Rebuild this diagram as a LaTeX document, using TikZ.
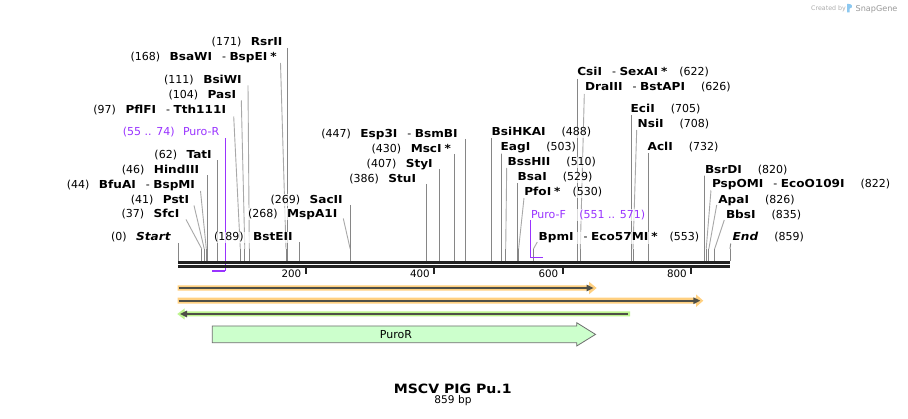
\documentclass[tikz,border=0pt]{standalone}
\usepackage{fontspec}
\setmainfont{DejaVu Sans}[BoldFeatures={FakeStretch=1.1},BoldItalicFeatures={FakeStretch=1.1}]
\usetikzlibrary{calc}
\pgfdeclarelayer{bg}
\pgfsetlayers{bg,main}
\definecolor{mapc}{HTML}{222222}
\definecolor{leadc}{HTML}{A8A8A8}
\definecolor{vertc}{HTML}{868686}
\definecolor{primc}{HTML}{9933FF}
\definecolor{orhalo}{HTML}{FFD080}
\definecolor{grhalo}{HTML}{BDF58E}
\definecolor{featc}{HTML}{4F4F47}
\definecolor{cdsfill}{HTML}{CCFFCC}
\definecolor{cdsdraw}{HTML}{6E6E6E}
\definecolor{logoc}{HTML}{8CC8F0}
\tikzset{
  lbl/.style={inner sep=0.8pt, outer sep=0pt, fill=white, fill opacity=0.7, text opacity=1,
    font=\fontsize{11}{12}\selectfont},
  slant/.style={draw=leadc, line width=0.9pt},
  vert/.style={draw=vertc, line width=0.9pt},
  primline/.style={draw=primc, line width=1.2pt},
  primbar/.style={draw=primc, line width=1.8pt},
  ticklbl/.style={inner sep=0pt, font=\fontsize{10.3}{12}\selectfont},
  featline/.style={draw=featc, line width=2pt},
  cdsbox/.style={fill=cdsfill, draw=cdsdraw, line width=0.8pt},
}
\newcommand\enz[1]{\textbf{#1}}
\newcommand\gapL{\hspace{9.5pt}}
\newcommand\gapR{\hspace{16pt}}
\newcommand\gapS{\hspace{12pt}}
\newcommand\dsep{\hspace{10pt}-\hspace{3.5pt}}
\newcommand\starx{\hspace{3pt}\textbf{*}}
% #1 name, #2 anchor, #3 label pos, #4 text, #5 leader top, #6 site x, #7 leader style
\newcommand\site[7]{%
  \node[lbl,anchor=#2] (#1) at #3 {#4};
  \coordinate (#1-t) at #5;
  \coordinate (#1-b) at (#6,249);
  \coordinate (#1-s) at (#6,261);
  \begin{pgfonlayer}{bg}
  \draw[#7] (#1-t) -- (#1-b);
  \draw[vert] (#1-b) -- (#1-s);
  \end{pgfonlayer}
}
\begin{document}
\begin{tikzpicture}[x=1pt,y=-1pt]
\begin{pgfonlayer}{bg}
\fill[white] (0,0) rectangle (908,419);
\end{pgfonlayer}
\useasboundingbox (0,0) rectangle (908,419);

% ---- left-side labels
\site{start}{base east}{(171.8,240.7)}{(0)\gapL\textbf{\itshape Start}}{(178,243)}{178}{vert}
\site{sfcI}{base east}{(180.1,217.3)}{(37)\gapL\enz{SfcI}}{(186,219.5)}{201.8}{slant}
\site{pstI}{base east}{(189.8,203.3)}{(41)\gapL\enz{PstI}}{(194,205.5)}{204.3}{slant}
\site{bfuAI}{base east}{(195.8,188.3)}{(44)\gapL\enz{BfuAI}\dsep\enz{BspMI}}{(200.5,191)}{206.3}{slant}
\site{hindIII}{base east}{(199.8,173.3)}{(46)\gapL\enz{HindIII}}{(207.6,175.5)}{207.6}{vert}
\site{tatI}{base east}{(212.5,158.3)}{(62)\gapL\enz{TatI}}{(217.8,160.5)}{217.8}{vert}
\site{pflFI}{base east}{(226.8,114)}{(97)\gapL\enz{PflFI}\dsep\enz{Tth111I}}{(233.7,116.5)}{240.3}{slant}
\site{pasI}{base east}{(236.8,98.3)}{(104)\gapL\enz{PasI}}{(241.3,100.5)}{244.8}{slant}
\site{bsiWI}{base east}{(242.5,83.3)}{(111)\gapL\enz{BsiWI}}{(248,85.5)}{249.3}{slant}
\site{bsaWI}{base east}{(277.5,60.7)}{(168)\gapL\enz{BsaWI}\dsep\enz{BspEI}\starx}{(280.5,63)}{286}{slant}
\site{rsrII}{base east}{(283.1,45.7)}{(171)\gapL\enz{RsrII}}{(287.9,48)}{287.9}{vert}
\site{bstEII}{base east}{(293.5,240.7)}{(189)\gapL\enz{BstEII}}{(299.5,242)}{299.5}{vert}
\site{mspA1I}{base east}{(338.1,217.3)}{(268)\gapL\enz{MspA1I}}{(343.3,218.5)}{350.2}{slant}
\site{sacII}{base east}{(343.5,203.3)}{(269)\gapL\enz{SacII}}{(350.9,205)}{350.9}{vert}
\site{stuI}{base east}{(416.8,182.3)}{(386)\gapL\enz{StuI}}{(426,184)}{426}{vert}
\site{styI}{base east}{(433.5,167.3)}{(407)\gapL\enz{StyI}}{(439.5,169)}{439.5}{vert}
\site{mscI}{base east}{(451.8,152.7)}{(430)\gapL\enz{MscI}\starx}{(454.3,154)}{454.3}{vert}
\site{esp3I}{base east}{(458.5,137.3)}{(447)\gapL\enz{Esp3I}\dsep\enz{BsmBI}}{(465.2,139)}{465.2}{vert}

% ---- right-side labels
\site{bsiHKAI}{base west}{(490.9,135.7)}{\enz{BsiHKAI}\gapR(488)}{(491.6,138)}{491.6}{vert}
\site{eagI}{base west}{(499.9,151)}{\enz{EagI}\gapR(503)}{(501.2,153)}{501.2}{vert}
\site{bssHII}{base west}{(506.9,166)}{\enz{BssHII}\gapR(510)}{(506.7,168)}{505.7}{slant}
\site{bsaI}{base west}{(516.9,181)}{\enz{BsaI}\gapR(529)}{(517.9,183)}{517.9}{vert}
\site{pfoI}{base west}{(523.5,196)}{\enz{PfoI}\starx\gapS(530)}{(524,198)}{518.6}{slant}
\site{bpmI}{base west}{(537.9,241)}{\enz{BpmI}\dsep\enz{Eco57MI}\starx\gapS(553)}{(537.3,242)}{533.4}{slant}
\site{csiI}{base west}{(576.5,76)}{\enz{CsiI}\dsep\enz{SexAI}\starx\gapS(622)}{(577.7,79)}{577.7}{vert}
\site{draIII}{base west}{(584.2,91)}{\enz{DraIII}\dsep\enz{BstAPI}\gapR(626)}{(584.3,94)}{580.3}{slant}
\site{eciI}{base west}{(629.9,112.7)}{\enz{EciI}\gapR(705)}{(631,115)}{631}{vert}
\site{nsiI}{base west}{(636.9,127.7)}{\enz{NsiI}\gapR(708)}{(636.7,130)}{633}{slant}
\site{aclI}{base west}{(646.9,150.3)}{\enz{AclI}\gapR(732)}{(648.4,153)}{648.4}{vert}
\site{bsrDI}{base west}{(704.2,173.3)}{\enz{BsrDI}\gapR(820)}{(704.9,175)}{704.9}{vert}
\site{pspOMI}{base west}{(711.2,188)}{\enz{PspOMI}\dsep\enz{EcoO109I}\gapR(822)}{(711,190)}{706.2}{slant}
\site{apaI}{base west}{(717.5,203.3)}{\enz{ApaI}\gapR(826)}{(716.7,205)}{708.8}{slant}
\site{bbsI}{base west}{(725.2,218.3)}{\enz{BbsI}\gapR(835)}{(724.3,220)}{714.6}{slant}
\site{endS}{base west}{(731.9,241)}{\textbf{\itshape End}\gapR(859)}{(730.7,243.5)}{730}{vert}

% ---- primers
\node[lbl,text=primc,anchor=base east] (puroRl) at (220.1,135.7) {(55 .. 74)\hspace{8.5pt}Puro-R};
\coordinate (puroRt) at (225.3,138.5);
\coordinate (puroRa) at (212,270.8);
\coordinate (puroRb) at (225.3,270.8);
\begin{pgfonlayer}{bg}
\draw[primline] (puroRt) -- (puroRb);
\end{pgfonlayer}
\draw[primbar] (puroRa) -- (puroRb);

\node[lbl,text=primc,anchor=base west] (puroFl) at (530.2,218.3) {Puro-F\hspace{13.5pt}(551 .. 571)};
\coordinate (puroFt) at (530.6,220.5);
\coordinate (puroFa) at (530.6,257.6);
\coordinate (puroFb) at (543,257.6);
\draw[primline] (puroFt) -- (puroFa);
\draw[primbar] (puroFa) -- (puroFb);

% ---- sequence map line
\fill[mapc] (178,260.8) rectangle (730,263.8);
\fill[mapc] (178,265.1) rectangle (730,267.9);
\foreach \x/\t in {305.5/200,434/400,562.5/600,691/800}{
  \draw[mapc,line width=2pt] (\x,267.5) -- (\x,274.5);
  \node[ticklbl,anchor=base east] (tk\t) at (\x-4,278) {\t};
}

% ---- feature 1 (orange)
\fill[orhalo] (177.5,285.3) -- (589,285.3) -- (589,281.7) -- (596.7,288) -- (589,294.3) -- (589,290.7) -- (177.5,290.7) -- cycle;
\draw[featline] (178.5,288) -- (588,288);
\fill[featc] (586.5,284.6) -- (593.5,288) -- (586.5,291.4) -- cycle;
% ---- feature 2 (orange)
\fill[orhalo] (177.5,297.7) -- (696,297.7) -- (696,294.4) -- (703.3,300.7) -- (696,307) -- (696,303.7) -- (177.5,303.7) -- cycle;
\draw[featline] (178.5,300.7) -- (695,300.7);
\fill[featc] (693.3,297.3) -- (700.2,300.7) -- (693.3,304.1) -- cycle;
% ---- feature 3 (green, reverse)
\fill[grhalo] (177.3,314) -- (184.5,308.5) -- (184.5,311.5) -- (630,311.5) -- (630,316.5) -- (184.5,316.5) -- (184.5,319.5) -- cycle;
\draw[featline] (185,314) -- (627.7,314);
\fill[featc] (180,314) -- (187,310.6) -- (187,317.4) -- cycle;
% ---- PuroR CDS
\draw[cdsbox] (212.3,326) -- (576.7,326) -- (576.7,322.7) -- (595.5,334.4) -- (576.7,346) -- (576.7,342.7) -- (212.3,342.7) -- cycle;
\node[inner sep=0pt,font=\fontsize{11}{12}\selectfont,anchor=center] (puroR) at (396,334.4) {PuroR};

% ---- title
\node[inner sep=0pt,anchor=base,font=\bfseries\fontsize{12.8}{15}\selectfont] (title) at (452.7,393.3) {MSCV PIG Pu.1};
\node[inner sep=0pt,anchor=base,font=\fontsize{10.6}{12}\selectfont] (len) at (453,403.3) {859 bp};

% ---- watermark
\node[inner sep=0pt,anchor=base west,text=black!32,font=\fontsize{6.3}{7}\selectfont] (crby) at (811,10.5) {Created by};
\fill[logoc] (847.2,12.3) -- (847.2,3.8) .. controls (852.5,3.2) and (853.8,7.8) .. (849.6,8.6) -- (849.6,12.3) -- cycle;
\node[inner sep=0pt,anchor=base west,text=black!40,font=\fontsize{8.1}{9}\selectfont] (sg) at (855.5,11.3) {SnapGene};
\end{tikzpicture}
\end{document}
